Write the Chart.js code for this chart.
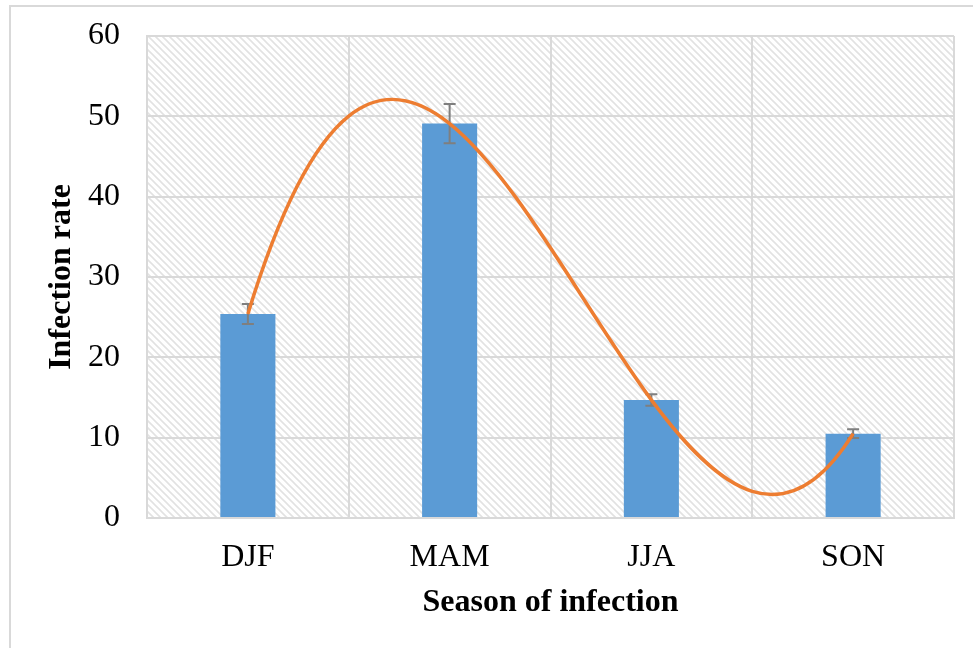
<!DOCTYPE html>
<html><head><meta charset="utf-8">
<script src="https://cdn.jsdelivr.net/npm/chart.js@4"></script>
<style>html,body{margin:0;padding:0;background:#fff}#wrap{width:973px;height:648px}</style>
</head><body><div id="wrap"><canvas id="c" width="973" height="648"></canvas></div>
<script>
const categories = ['DJF', 'MAM', 'JJA', 'SON'];
const infectionRate = [25.4, 49.1, 14.7, 10.5];
const errorMargins = [1.25, 2.45, 0.72, 0.55];
const yTicks = [0, 10, 20, 30, 40, 50, 60];
const xTitle = 'Season of infection';
const yTitle = 'Infection rate';

const FONT = '"Liberation Serif", "Times New Roman", serif';
const GRID = '#d9d9d9';

function makeHatch() {
  const s = 7;
  const c = document.createElement('canvas');
  c.width = s; c.height = s;
  const g = c.getContext('2d');
  g.strokeStyle = '#e2e2e2';
  g.lineWidth = 1.6;
  g.beginPath();
  g.moveTo(-1, -1); g.lineTo(s + 1, s + 1);
  g.moveTo(-s - 1, -1); g.lineTo(1, s + 1);
  g.moveTo(s - 1, -1); g.lineTo(2 * s + 1, s + 1);
  g.stroke();
  return c;
}

const backgroundPlugin = {
  id: 'bgHatch',
  beforeDraw(chart) {
    const ctx = chart.ctx, a = chart.chartArea;
    ctx.save();
    ctx.fillStyle = '#fff';
    ctx.fillRect(0, 0, chart.width, chart.height);
    ctx.strokeStyle = GRID;
    ctx.lineWidth = 2;
    ctx.strokeRect(10, 6, chart.width + 20, chart.height + 20);
    ctx.fillStyle = ctx.createPattern(makeHatch(), 'repeat');
    ctx.fillRect(a.left, a.top, a.right - a.left, a.bottom - a.top);
    ctx.restore();
  }
};

const trendPlugin = {
  id: 'polyTrend',
  beforeDatasetDraw(chart, args) {
    const meta = args.meta;
    if (meta.type !== 'line') return;
    const line = meta.dataset;
    const pts = meta.data;
    line.updateControlPoints(chart.chartArea, 'x');
    const xs = pts.map(p => p.x), ys = pts.map(p => p.y);
    const n = xs.length;
    const c = ys.slice();
    for (let j = 1; j < n; j++)
      for (let i = n - 1; i >= j; i--) c[i] = (c[i] - c[i - 1]) / (xs[i] - xs[i - j]);
    const deriv = x => {
      let p = c[n - 1], dp = 0;
      for (let i = n - 2; i >= 0; i--) { dp = dp * (x - xs[i]) + p; p = p * (x - xs[i]) + c[i]; }
      return dp;
    };
    pts.forEach((p, i) => {
      const d = deriv(p.x);
      if (i > 0) { const h = (p.x - xs[i - 1]) / 3; p.cp1x = p.x - h; p.cp1y = p.y - d * h; }
      if (i < n - 1) { const h = (xs[i + 1] - p.x) / 3; p.cp2x = p.x + h; p.cp2y = p.y + d * h; }
    });
    delete line._path;
  }
};

const errorBarPlugin = {
  id: 'errorBars',
  afterDatasetDraw(chart, args) {
    if (args.meta.type !== 'bar') return;
    const ctx = chart.ctx, ys = chart.scales.y;
    ctx.save();
    ctx.strokeStyle = '#7f7f7f';
    ctx.lineWidth = 2;
    args.meta.data.forEach((bar, i) => {
      const v = infectionRate[i], e = errorMargins[i];
      const t = ys.getPixelForValue(v + e), b = ys.getPixelForValue(v - e);
      const x = bar.x;
      ctx.beginPath();
      ctx.moveTo(x, t); ctx.lineTo(x, b);
      ctx.moveTo(x - 6, t); ctx.lineTo(x + 6, t);
      ctx.moveTo(x - 6, b); ctx.lineTo(x + 6, b);
      ctx.stroke();
    });
    ctx.restore();
  }
};

new Chart(document.getElementById('c'), {
  data: {
    labels: categories,
    datasets: [
      {
        type: 'line', label: 'Trend', data: infectionRate, order: 0,
        borderColor: '#ed7d31', borderWidth: 3.5, pointRadius: 0, tension: 0.4,
        capBezierPoints: false, fill: false
      },
      {
        type: 'bar', label: 'Infection rate', data: infectionRate, order: 1,
        backgroundColor: '#5b9bd5', borderWidth: 0,
        barPercentage: 0.273, categoryPercentage: 1
      }
    ]
  },
  options: {
    responsive: false,
    devicePixelRatio: 1,
    animation: false,
    layout: { padding: { left: 43, top: 36, right: 19, bottom: 26 } },
    plugins: { legend: { display: false }, tooltip: { enabled: false } },
    scales: {
      x: {
        afterFit: s => { s.height = 104; s.paddingLeft = 0; s.paddingRight = 0; },
        grid: { color: GRID, lineWidth: 2, drawTicks: false, offset: true },
        border: { color: GRID, width: 2 },
        ticks: { color: '#000', padding: 20, font: { family: FONT, size: 32 } },
        title: { display: true, text: xTitle, color: '#000', padding: { top: 0, bottom: 0 },
                 font: { family: FONT, size: 32, weight: 'bold' } }
      },
      y: {
        min: 0, max: 60,
        afterBuildTicks: s => { s.ticks = yTicks.map(v => ({ value: v })); },
        afterFit: s => { s.width = 104; s.paddingTop = 0; s.paddingBottom = 0; },
        grid: { color: GRID, lineWidth: 2, drawTicks: false },
        border: { color: GRID, width: 2 },
        ticks: { color: '#000', padding: 27, font: { family: FONT, size: 32 } },
        title: { display: true, text: yTitle, color: '#000', padding: { top: 0, bottom: 0 },
                 font: { family: FONT, size: 32, weight: 'bold' } }
      }
    }
  },
  plugins: [backgroundPlugin, trendPlugin, errorBarPlugin]
});
</script>
</body></html>
